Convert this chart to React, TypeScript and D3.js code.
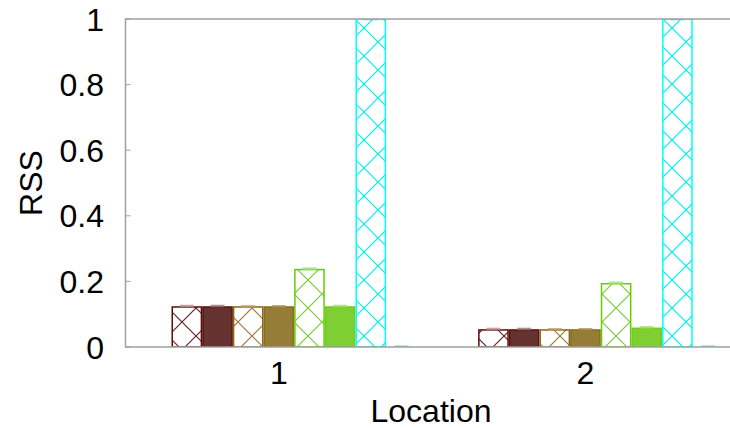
import React from "react";
import * as d3 from "d3";

const locations = [1, 2];
const yTicks = [0, 0.2, 0.4, 0.6, 0.8, 1];

// one array per bar series, values for location 1 and 2
const seriesA = [0.122, 0.052];
const seriesB = [0.122, 0.052];
const seriesC = [0.122, 0.052];
const seriesD = [0.122, 0.052];
const seriesE = [0.236, 0.193];
const seriesF = [0.122, 0.057];
const seriesG = [1.0, 1.0];
const seriesH = [0, 0];
const errors = [0.003, 0.003, 0.002, 0.002, 0.003, 0.003, 0, 0.002];

const styles = [
  { hatch: "#6a2222", stroke: "#5a0e0e", fill: null },
  { hatch: null, stroke: "#5a1212", fill: "#653230" },
  { hatch: "#9c7a35", stroke: "#8a6410", fill: null },
  { hatch: null, stroke: "#8a6a20", fill: "#967d37" },
  { hatch: "#78cc38", stroke: "#66cc00", fill: null },
  { hatch: null, stroke: "#70cc20", fill: "#7fcf33" },
  { hatch: "#00f0f0", stroke: "#00ffff", fill: null },
  { hatch: null, stroke: "#80e8e8", fill: "#c0f0f0" },
];
const errColors = ["#c08a8a", "#a07070", "#c0a060", "#b09050", "#a8e070", "#a0e060", "#40d0d0", "#90e0e0"];

export default function App() {
  const width = 730;
  const height = 428;
  const allSeries = [seriesA, seriesB, seriesC, seriesD, seriesE, seriesF, seriesG, seriesH];
  const x = d3.scaleLinear().domain([0.5, 2.5]).range([125.5, 738.75]);
  const y = d3.scaleLinear().domain([0, 1]).range([347, 19]);
  const bw = 0.1;
  const font = "'Liberation Sans', Arial, Helvetica, sans-serif";
  const fs = 32;

  return (
    <div style={{ position: "fixed", left: 0, top: 0 }}>
      <svg width={width} height={height} style={{ display: "block", background: "#fff" }}>
        <defs>
          {styles.map((s, i) =>
            s.hatch ? (
              <pattern key={i} id={"hatch" + i} patternUnits="userSpaceOnUse" width={28} height={28}>
                <rect width={28} height={28} fill="#fff" />
                <path d="M0,0L28,28M0,28L28,0" stroke={s.hatch} strokeWidth={1.2} />
              </pattern>
            ) : null
          )}
          <clipPath id="plot">
            <rect x={x(0.5)} y={y(1)} width={x(2.5) - x(0.5)} height={y(0) - y(1)} />
          </clipPath>
        </defs>

        <g clipPath="url(#plot)">
          {allSeries.map((vals, j) =>
            vals.map((v, g) => {
              const x0 = x(locations[g] + (j - 3.5) * bw);
              const x1 = x(locations[g] + (j - 2.5) * bw);
              const s = styles[j];
              if (v <= 0) return null;
              return (
                <rect
                  key={j + "-" + g}
                  x={x0 + 0.75}
                  y={y(v)}
                  width={x1 - x0 - 1.5}
                  height={y(0) - y(v)}
                  fill={s.fill ? s.fill : `url(#hatch${j})`}
                  stroke={s.stroke}
                  strokeWidth={1.5}
                />
              );
            })
          )}
          {allSeries.map((vals, j) =>
            vals.map((v, g) => {
              const cx = x(locations[g] + (j - 3) * bw);
              const e = errors[j];
              return (
                <g key={"e" + j + "-" + g} stroke={errColors[j]} strokeWidth={2.5} opacity={0.8}>
                  <line x1={cx - 7} x2={cx + 7} y1={y(v + e)} y2={y(v + e)} />
                  {v > 0 && <line x1={cx} x2={cx} y1={y(v + e)} y2={y(v)} strokeWidth={1} />}
                </g>
              );
            })
          )}
        </g>

        {/* border */}
        <path
          d={`M${x(2.5)},${y(1)}H${x(0.5)}V${y(0)}H${x(2.5)}`}
          fill="none"
          stroke="#a0a0a0"
          strokeWidth={1.5}
        />
        {yTicks.map((t) => (
          <g key={t}>
            <line x1={x(0.5)} x2={x(0.5) + 5} y1={y(t)} y2={y(t)} stroke="#a0a0a0" strokeWidth={1} />
            <text
              x={104}
              y={y(t) + fs * 0.36}
              textAnchor="end"
              fontFamily={font}
              fontSize={fs}
              fill="#000"
            >
              {String(t)}
            </text>
          </g>
        ))}
        {locations.map((l) => (
          <text key={l} x={x(l)} y={384} textAnchor="middle" fontFamily={font} fontSize={fs} fill="#000">
            {String(l)}
          </text>
        ))}
        <text x={431} y={422} textAnchor="middle" fontFamily={font} fontSize={fs} fill="#000">
          Location
        </text>
        <text transform="translate(41.5,183) rotate(-90)" textAnchor="middle" fontFamily={font} fontSize={fs} fill="#000">
          RSS
        </text>
      </svg>
    </div>
  );
}
